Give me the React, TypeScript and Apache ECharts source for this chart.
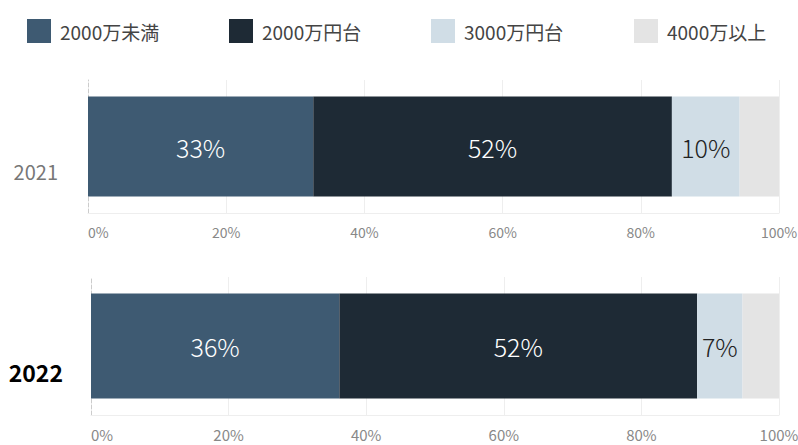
import React, { useEffect, useRef } from "react";
import * as echarts from "echarts";

const years = ["2021", "2022"];
const seriesNames = ["2000万未満", "2000万円台", "3000万円台", "4000万以上"];
const under2000 = [32.6, 36.1];
const range2000 = [51.9, 52.0];
const range3000 = [9.8, 6.6];
const over4000 = [5.7, 5.3];
const tickLabels = ["0%", "20%", "40%", "60%", "80%", "100%"];

const colors = ["#3e5a72", "#1e2a35", "#d0dde6", "#e4e4e4"];
const labelColors = ["#ffffff", "#ffffff", "#222222", "#222222"];
const FONT = "'Noto Sans CJK JP', 'Noto Sans', sans-serif";

export default function App() {
  const ref = useRef<HTMLDivElement>(null);
  useEffect(() => {
    if (!ref.current) return;
    const chart = echarts.init(ref.current, undefined, { renderer: "svg" });
    const values = [under2000, range2000, range3000, over4000];
    const grids = [
      { left: 88, right: 19, top: 80, height: 133, outerBoundsMode: "none", containLabel: false },
      { left: 91, right: 19, top: 277, height: 138, outerBoundsMode: "none", containLabel: false },
    ];
    const barWidths = [100, 105];
    const yLabelStyles = [
      { color: "#777", fontSize: 20, fontWeight: "normal", lineHeight: 50, margin: 30 },
      { color: "#000", fontSize: 23, fontWeight: "bold", lineHeight: 52, margin: 28 },
    ];
    const series: any[] = [];
    years.forEach((y, gi) => {
      seriesNames.forEach((name, si) => {
        series.push({
          name,
          type: "bar",
          stack: "s" + gi,
          xAxisIndex: gi,
          yAxisIndex: gi,
          barWidth: barWidths[gi],
          itemStyle: { color: colors[si] },
          label: {
            show: si < 3,
            position: "inside",
            color: labelColors[si],
            fontSize: 25,
            fontFamily: FONT,
            fontWeight: 300,
            formatter: (p: any) => Math.round(p.value) + "%",
          },
          data: [values[si][gi]],
        });
      });
    });
    const legendLefts = [22, 224, 426, 629];
    chart.setOption({
      animation: false,
      textStyle: { fontFamily: FONT },
      legend: seriesNames.map((n, i) => ({
        data: [n],
        left: legendLefts[i],
        top: 14,
        icon: "rect",
        itemWidth: 24,
        itemHeight: 24,
        selectedMode: false,
        textStyle: { fontSize: 19, color: "#444", fontFamily: FONT, padding: [0, 0, 0, 4] },
      })),
      grid: grids,
      xAxis: years.map((_, gi) => ({
        type: "value",
        gridIndex: gi,
        min: 0,
        max: 100,
        interval: 20,
        axisLine: { show: true, lineStyle: { color: "#eeeeee" } },
        axisTick: { show: false },
        splitLine: { show: true, showMinLine: false, lineStyle: { color: "#eeeeee" } },
        axisLabel: {
          color: "#888",
          fontSize: gi === 0 ? 14 : 15,
          margin: 12,
          alignMinLabel: "left",
          formatter: (v: number) => tickLabels[Math.round(v / 20)],
        },
      })),
      yAxis: years.map((y, gi) => ({
        type: "category",
        gridIndex: gi,
        data: [y],
        axisTick: { show: false },
        axisLine: { show: true, lineStyle: { color: "#cccccc", type: "dashed" } },
        axisLabel: {
          color: yLabelStyles[gi].color,
          fontSize: yLabelStyles[gi].fontSize,
          fontWeight: yLabelStyles[gi].fontWeight,
          verticalAlign: "top",
          lineHeight: yLabelStyles[gi].lineHeight,
          margin: yLabelStyles[gi].margin,
        },
      })),
      series,
    });
    return () => chart.dispose();
  }, []);
  return (
    <div
      ref={ref}
      style={{ position: "absolute", left: 0, top: 0, width: 798, height: 445 }}
    />
  );
}
